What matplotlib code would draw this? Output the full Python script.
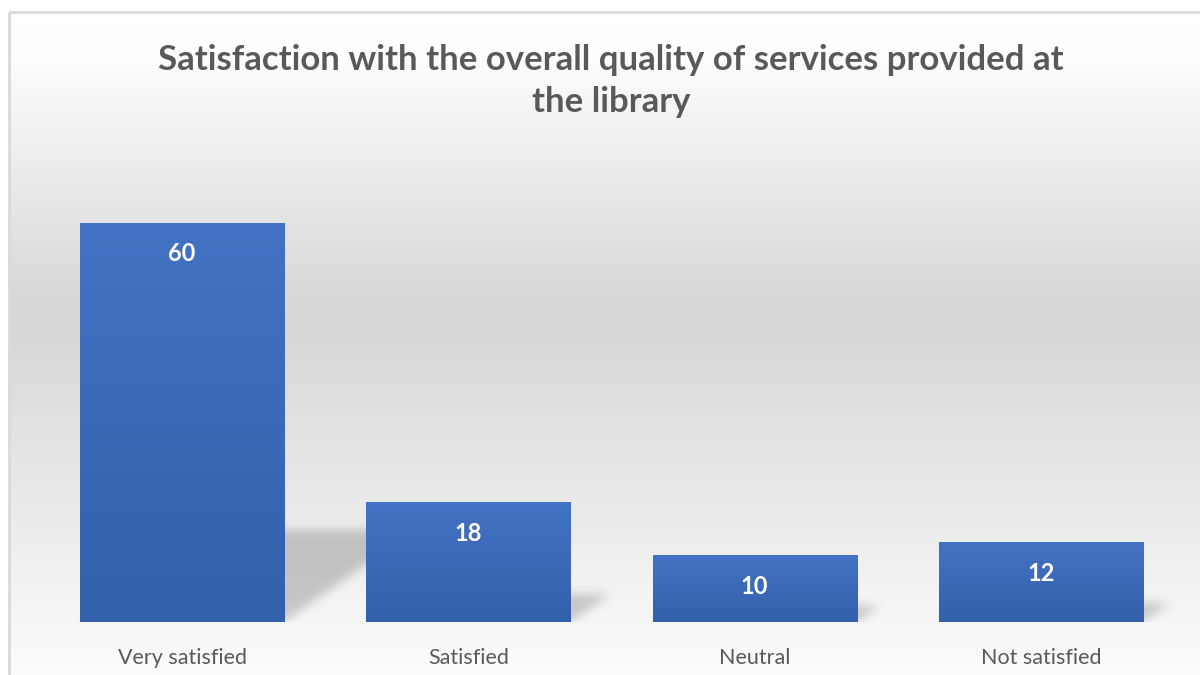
import numpy as np
import matplotlib
matplotlib.use("Agg")
import matplotlib.pyplot as plt
from matplotlib.patches import Rectangle
from matplotlib.colors import LinearSegmentedColormap

categories = ["Very satisfied", "Satisfied", "Neutral", "Not satisfied"]
values = [60, 18, 10, 12]
title = "Satisfaction with the overall quality of services provided at\nthe library"

W, H = 1200, 675
fig = plt.figure(figsize=(W / 100, H / 100), dpi=100)
plt.rcParams['font.family'] = ['Lato', 'DejaVu Sans']

# ---- background (chart area) ----
bg = fig.add_axes([0, 0, 1, 1], zorder=0)
bg.set_xlim(0, W)
bg.set_ylim(H, 0)
bg.axis('off')
rows = np.arange(H)
stops_y = [12, 40, 290, 330, 675]
stops_v = [255, 254, 216, 216, 252]
col = np.interp(rows, stops_y, stops_v) / 255.0
grad = np.repeat(col[:, None], 2, axis=1)
bg.imshow(np.dstack([grad, grad, grad]), extent=[9, W + 10, H, 12], aspect='auto',
          interpolation='bilinear')
bg.add_patch(Rectangle((9, 12), W, H, fill=False, edgecolor='#d9d9d9', linewidth=2))

fig.text(611 / W, 1 - 81 / H, title, ha='center', va='center', fontsize=25,
         fontweight='bold', color='#595959', linespacing=1.42)

# ---- plot area ----
left, right, top, bottom = 39, 1184, 156, 622
ax = fig.add_axes([left / W, 1 - bottom / H, (right - left) / W, (bottom - top) / H], zorder=1)
ax.patch.set_alpha(0)
x = np.arange(len(categories))
ax.set_xlim(-0.5, len(categories) - 0.5)
ax.set_ylim(0, 70)
for s in ax.spines.values():
    s.set_visible(False)
ax.set_yticks([])
ax.set_xticks(x)
ax.set_xticklabels(categories, fontsize=15.5, color='#595959')
ax.tick_params(axis='x', length=0, pad=19)

bar_w = 0.713
bars = ax.bar(x, values, width=bar_w, color='none', edgecolor='none', zorder=3)

# ---- perspective shadows (computed from the bars) ----
pw, ph = right - left, bottom - top
ppx = pw / len(categories)
ppy = ph / 70.0
img = np.zeros((ph, pw))
yy = np.arange(ph)[:, None]  # from bottom
xx = np.arange(pw)[None, :]
for b in bars:
    h_px = b.get_height() * ppy
    sh = 0.23 * h_px
    x0 = (b.get_x() + 0.5) * ppx
    x1 = x0 + b.get_width() * ppx
    off = 1.43 * yy
    m = (yy <= sh) & (xx >= x0 + off) & (xx <= x1 + off)
    img = np.maximum(img, m.astype(float))

def blur(a, sigma):
    r = int(3 * sigma)
    k = np.exp(-0.5 * (np.arange(-r, r + 1) / sigma) ** 2)
    k /= k.sum()
    a = np.apply_along_axis(lambda v: np.convolve(v, k, mode='same'), 0, a)
    a = np.apply_along_axis(lambda v: np.convolve(v, k, mode='same'), 1, a)
    return a

img = blur(img, 5.0)
rgba = np.zeros((ph, pw, 4))
rgba[..., 3] = img * 0.19
ax.imshow(rgba[::-1], extent=[-0.5, len(categories) - 0.5, 0, 70], aspect='auto',
          zorder=2, interpolation='bilinear')

# ---- gradient bars ----
cmap = LinearSegmentedColormap.from_list('barg', ['#3360aa', '#4472c4'])
gvals = np.linspace(0, 1, 256)[:, None]
for b in bars:
    bx, bw, bh = b.get_x(), b.get_width(), b.get_height()
    im = ax.imshow(gvals, extent=[bx, bx + bw, 0, bh], origin='lower', cmap=cmap,
                   aspect='auto', zorder=3, interpolation='bilinear')
    im.set_clip_path(b)
    ax.annotate(f"{int(bh)}", (bx + bw / 2, bh), xytext=(0, -31), textcoords='offset pixels',
                ha='center', va='center', color='white', fontsize=17, fontweight='bold', zorder=4)

ax.set_xlim(-0.5, len(categories) - 0.5)
ax.set_ylim(0, 70)
fig.savefig('out.png', dpi=100)
